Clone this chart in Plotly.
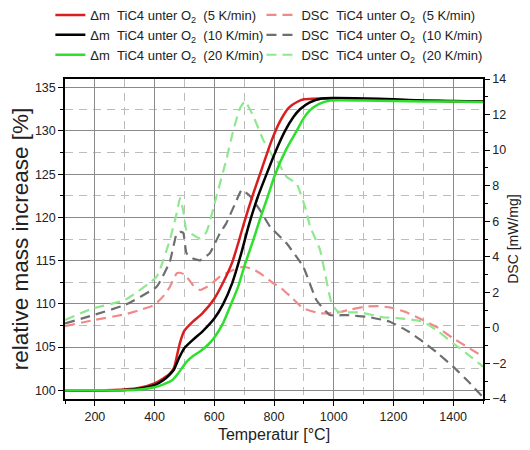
import plotly.graph_objects as go

# ---------------- data ----------------
# mass curves (relative mass increase, %)
T_mass_red = [100, 200, 300, 350, 400, 430, 450, 465, 475, 485, 500, 530, 560, 600, 630, 660, 680, 700,
              730, 760, 790, 820, 850, 880, 900, 950, 1000, 1100, 1200, 1300, 1400, 1500]
mass_red = [100.0, 100.0, 100.1, 100.3, 100.8, 101.4, 101.9, 102.6, 104.0, 105.5, 106.9, 108.0, 108.9, 110.6,
            112.5, 114.8, 117.0, 119.4, 122.7, 125.7, 128.7, 131.1, 132.7, 133.4, 133.65, 133.75, 133.75,
            133.7, 133.6, 133.5, 133.4, 133.4]

T_mass_black = [100, 200, 300, 350, 400, 430, 450, 465, 480, 500, 530, 560, 600, 630, 660, 690, 714, 745,
                775, 805, 837, 865, 887, 920, 960, 1000, 1100, 1200, 1300, 1400, 1500]
mass_black = [100.0, 100.0, 100.05, 100.2, 100.6, 101.2, 101.8, 102.4, 103.6, 104.9, 105.9, 106.8, 108.3,
              110.0, 112.4, 115.8, 118.9, 122.3, 125.0, 127.6, 130.0, 131.6, 132.5, 133.3, 133.75, 133.8,
              133.75, 133.65, 133.5, 133.45, 133.4]

T_mass_green = [100, 200, 300, 350, 400, 430, 460, 480, 507, 530, 552, 580, 602, 630, 653, 680, 703, 730,
                753, 780, 803, 840, 876, 900, 921, 950, 988, 1100, 1200, 1300, 1400, 1500]
mass_green = [100.0, 100.0, 100.0, 100.1, 100.35, 100.7, 101.2, 102.0, 103.3, 104.0, 104.5, 105.3, 106.2,
              107.8, 109.7, 112.0, 114.6, 117.3, 119.8, 122.5, 124.9, 127.8, 130.0, 131.5, 132.4, 133.1,
              133.5, 133.5, 133.45, 133.4, 133.4, 133.35]

# DSC curves (mW/mg)
T_dsc_red = [100, 200, 300, 350, 400, 430, 451, 465, 474, 485, 501, 529, 552, 585, 620, 664, 697, 730, 760,
             798, 820, 853, 898, 954, 1010, 1060, 1110, 1150, 1188, 1240, 1299, 1350, 1400, 1450, 1500]
dsc_red = [0.1, 0.45, 0.76, 1.0, 1.3, 1.8, 2.3, 2.8, 3.07, 3.1, 3.0, 2.4, 2.13, 2.4, 2.9, 3.26, 3.44, 3.3,
           3.0, 2.5, 2.3, 1.8, 1.1, 0.82, 0.85, 1.05, 1.2, 1.22, 1.15, 0.9, 0.44, 0.0, -0.59, -1.1, -1.62]

T_dsc_black = [100, 195, 301, 407, 451, 474, 485, 496, 507, 529, 552, 585, 618, 640, 670, 692, 720, 753,
               787, 842, 898, 942, 987, 1043, 1121, 1188, 1250, 1299, 1350, 1400, 1450, 1500]
dsc_black = [0.25, 0.72, 1.29, 2.32, 3.72, 5.3, 5.4, 5.35, 4.2, 3.9, 3.8, 4.2, 5.3, 5.88, 7.0, 7.76, 7.4,
             6.63, 5.69, 4.76, 3.44, 1.57, 0.72, 0.72, 0.6, 0.35, -0.2, -0.78, -1.45, -2.18, -3.0, -3.9]

T_dsc_green = [100, 195, 301, 407, 451, 474, 485, 496, 507, 552, 574, 607, 640, 664, 686, 703, 731, 764,
               797, 809, 842, 876, 904, 921, 954, 993, 1015, 1087, 1165, 1221, 1299, 1350, 1400, 1450, 1500]
dsc_green = [0.45, 1.1, 1.57, 2.88, 4.94, 6.45, 7.3, 6.6, 5.5, 5.04, 5.4, 7.38, 9.44, 11.13, 12.35, 12.75,
             11.9, 10.57, 9.63, 9.44, 8.5, 8.1, 6.8, 5.7, 4.4, 1.38, 0.91, 0.87, 0.6, 0.54, 0.35, -0.2,
             -0.87, -1.5, -2.18]

rates = ["5 K/min", "10 K/min", "20 K/min"]

NB = "\u00a0"
mass_names = [f"Δm{NB}{NB}TiC4 unter O<sub>2</sub>{NB}{NB}({r})" for r in rates]
dsc_names = [f"DSC{NB}{NB}TiC4 unter O<sub>2</sub>{NB}{NB}({r})" for r in rates]

mass_colors = ["#d81e1e", "#000000", "#2ee02e"]
dsc_colors = ["#f08a8a", "#6e6e6e", "#8fe88f"]

fig = go.Figure()

# DSC on main y (right side); mass on overlaying y2 (left side) so mass lines are drawn on top
for T, D, name, col in zip([T_dsc_red, T_dsc_black, T_dsc_green], [dsc_red, dsc_black, dsc_green],
                           dsc_names, dsc_colors):
    fig.add_trace(go.Scatter(x=T, y=D, name=name, mode="lines", yaxis="y", legend="legend2",
                             line=dict(color=col, width=2.2, dash="10px,6px", shape="spline", smoothing=0.4)))

for T, M, name, col in zip([T_mass_red, T_mass_black, T_mass_green], [mass_red, mass_black, mass_green],
                           mass_names, mass_colors):
    fig.add_trace(go.Scatter(x=T, y=M, name=name, mode="lines", yaxis="y2", legend="legend",
                             line=dict(color=col, width=2.5, shape="spline", smoothing=0.6)))

FONT = "Liberation Sans, Arial, sans-serif"
major_grid = "#8a8a8a"
minor_grid = "#bcbcbc"

fig.update_layout(
    width=530, height=450,
    margin=dict(l=65, r=47, t=79, b=51, autoexpand=False),
    paper_bgcolor="white", plot_bgcolor="white",
    font=dict(family=FONT, color="#222222", size=12.5),
    showlegend=True,
    xaxis=dict(
        range=[100, 1500], tick0=0, dtick=200, ticks="outside", ticklen=5, tickwidth=1, tickcolor="black",
        showline=True, linecolor="black", linewidth=1.5, mirror=True,
        showgrid=True, gridcolor=major_grid, gridwidth=1.3, zeroline=False,
        minor=dict(tick0=0, dtick=100, ticks="outside", ticklen=3, tickcolor="black",
                   showgrid=True, gridcolor=minor_grid, griddash="8px,6px", gridwidth=1),
        title=dict(text="Temperatur [°C]", font=dict(size=16), standoff=6),
        automargin=False,
    ),
    yaxis=dict(
        range=[-4, 14], tick0=0, dtick=2, side="right", ticks="outside", ticklen=5, tickcolor="black",
        showline=True, linecolor="black", linewidth=1.5, showgrid=False, zeroline=False,
        minor=dict(tick0=0, dtick=1, ticks="outside", ticklen=3, tickcolor="black"),
        title=dict(text="DSC [mW/mg]", font=dict(size=14), standoff=3),
        automargin=False,
    ),
    yaxis2=dict(
        range=[99, 136], tick0=0, dtick=5, side="left", overlaying="y", anchor="x",
        ticks="outside", ticklen=5, tickcolor="black",
        showline=True, linecolor="black", linewidth=1.5, zeroline=False,
        showgrid=True, gridcolor=major_grid, gridwidth=1.3,
        minor=dict(tick0=0, dtick=2.5, ticks="outside", ticklen=3, tickcolor="black",
                   showgrid=True, gridcolor=minor_grid, griddash="8px,6px", gridwidth=1),
        title=dict(text="relative mass increase [%]", font=dict(size=22.5), standoff=0),
        automargin=False,
    ),
    legend=dict(xref="paper", yref="container", x=-0.035, y=1.005, xanchor="left", yanchor="top",
                bgcolor="rgba(0,0,0,0)", font=dict(size=13), tracegroupgap=0, itemwidth=30),
    legend2=dict(xref="paper", yref="container", x=0.47, y=1.005, xanchor="left", yanchor="top",
                 bgcolor="rgba(0,0,0,0)", font=dict(size=13), tracegroupgap=0, itemwidth=30),
)

fig.write_html("out.html")
